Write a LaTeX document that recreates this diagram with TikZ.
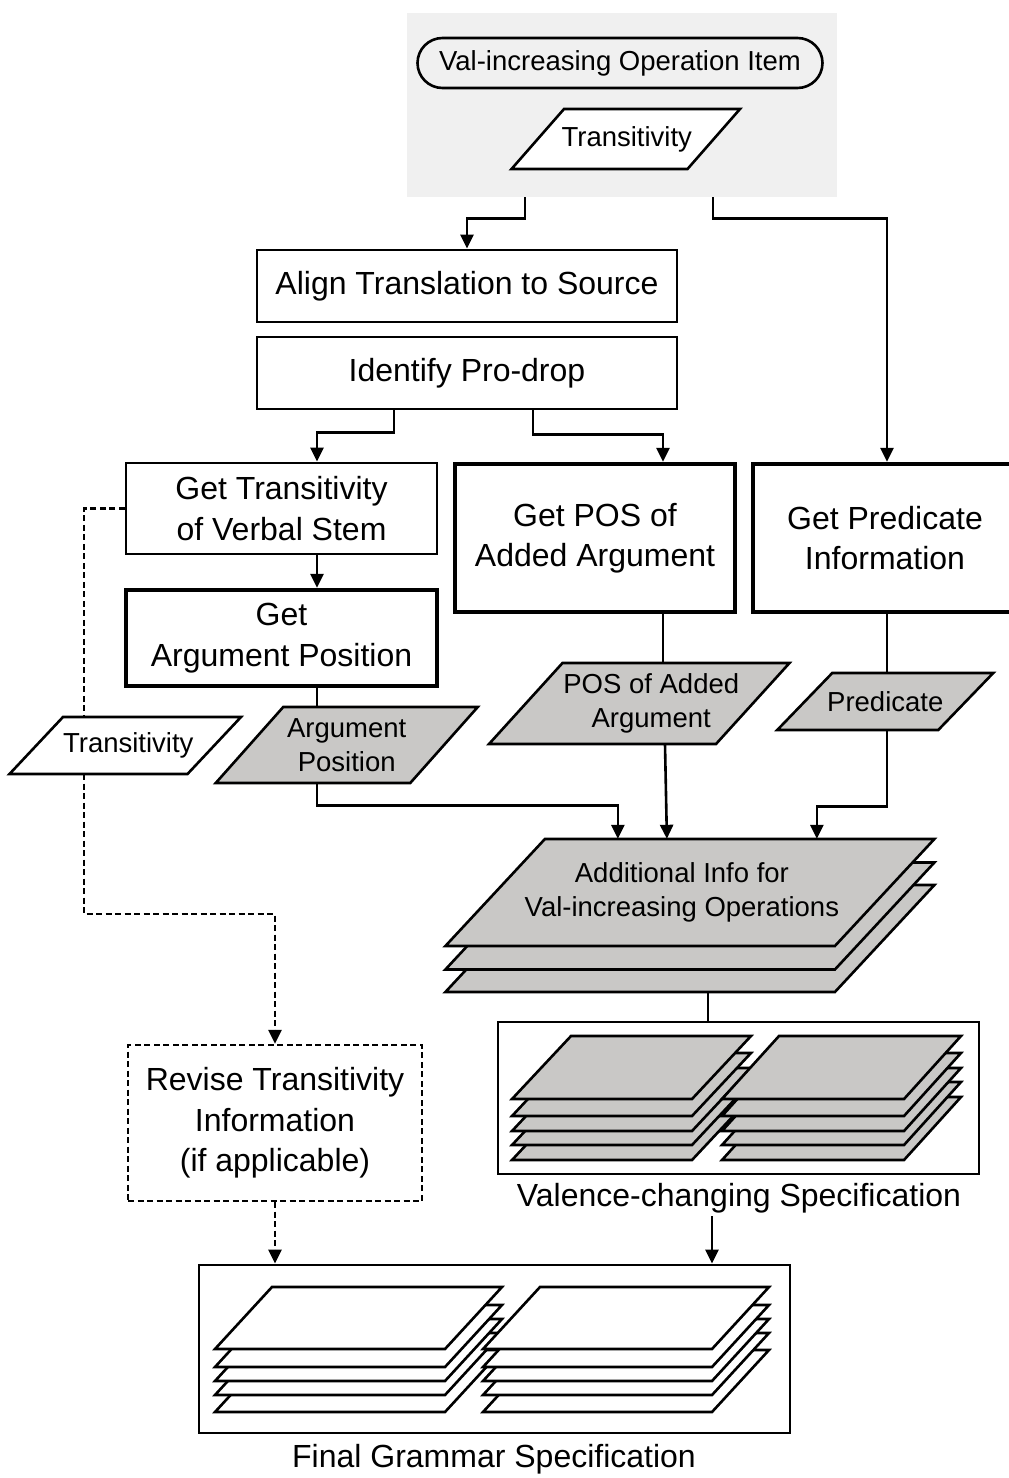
\documentclass[tikz,border=0pt]{standalone}
\usepackage{fontspec}
\setmainfont{Liberation Sans}
\usetikzlibrary{arrows.meta,calc}
\definecolor{bgpanel}{RGB}{240,240,240}
\definecolor{layergray}{RGB}{201,200,198}
\newcommand\bigfont{\fontsize{32}{40.5}\selectfont}
\newcommand\smallfont{\fontsize{27.5}{34.5}\selectfont}
\tikzset{
  conn/.style={line width=2.6pt},
  arr/.style={conn,-{Triangle[length=14pt,width=13pt]}},
  dconn/.style={line width=2.3pt,dash pattern=on 6pt off 3.5pt},
  darr/.style={dconn,-{Triangle[length=14pt,width=13pt]}},
  sheetline/.style={line width=2.6pt,line join=miter},
  procbox/.style={draw,line width=2.8pt,inner sep=0pt,align=center,font=\bigfont},
  thickbox/.style={procbox,line width=4.4pt},
  shapenode/.style={inner sep=0pt,draw=none},
  labeltext/.style={align=center,font=\smallfont,inner sep=0pt}
}
% sheet: cx cy w h slant fill
\newcommand\sheet[6]{%
  \draw[sheetline,fill=#6] ({#1-#3/2-#5/2},{#2+#4/2}) -- ({#1+#3/2-#5/2},{#2+#4/2})
    -- ({#1+#3/2+#5/2},{#2-#4/2}) -- ({#1-#3/2+#5/2},{#2-#4/2}) -- cycle;}
% paragram: name cx cy w h slant fill text textshift
\newcommand\paragram[9]{%
  \sheet{#2}{#3}{#4}{#5}{#6}{#7}
  \node[shapenode,minimum width=#4,minimum height=#5] (#1) at (#2,#3) {};
  \node[labeltext] (#1t) at ([xshift=#9]#1.center) {#8};}
\begin{document}
\begin{tikzpicture}[x=1pt,y=-1pt]
\useasboundingbox (0,0) rectangle (1009,1478);
\clip (0,0) rectangle (1009,1478);

% top panel
\node[fill=bgpanel,minimum width=430,minimum height=184,inner sep=0pt] (bg) at (622,105) {};
\node[draw,line width=2.6pt,rounded corners=25pt,minimum width=405,minimum height=50,inner sep=0pt,font=\smallfont] (item) at (620,63) {Val-increasing Operation Item};
\paragram{ttrans}{625.75}{139}{176}{60}{52.5}{white}{Transitivity}{1}

% process boxes
\node[procbox,minimum width=420,minimum height=72] (align) at (467,286) {\raisebox{-3pt}{Align Translation to Source}};
\node[procbox,minimum width=420,minimum height=72] (prodrop) at (467,373) {\raisebox{-3pt}{Identify Pro-drop}};
\node[procbox,minimum width=311,minimum height=91] (gettrans) at (281.5,508.5) {Get Transitivity\\of Verbal Stem};
\node[thickbox,minimum width=311,minimum height=96] (getarg) at (281.5,638) {Get\\Argument Position};
\node[thickbox,minimum width=280,minimum height=148] (getpos) at (595,538) {Get POS of\\Added Argument};
\node[thickbox,minimum width=264,minimum height=148] (getpred) at (885,538) {Get Predicate\\Information};

% data parallelograms
\paragram{ltrans}{125.25}{745.5}{178}{57}{53.5}{white}{Transitivity}{3}
\paragram{argpos}{346.75}{745}{194.5}{76}{67.5}{layergray}{Argument\\Position}{0}
\paragram{posarg}{639.25}{703.5}{227}{81}{73.5}{layergray}{POS of Added\\Argument}{12}
\paragram{pred}{885.25}{701.5}{161}{57}{55}{layergray}{Predicate}{0}

% additional info stack
\sheet{689.9}{938.5}{389.5}{107}{99.5}{layergray}
\sheet{689.9}{916}{389.5}{107}{99.5}{layergray}
\paragram{addinfo}{689.9}{892.5}{389.5}{107}{99.5}{layergray}{Additional Info for\\Val-increasing Operations}{-8}

% revise box
\node[procbox,line width=2.3pt,dash pattern=on 6pt off 3.5pt,minimum width=294,minimum height=156] (revise) at (275,1123) {Revise Transitivity\\Information\\(if applicable)};

% valence-changing specification
\node[draw,line width=2.8pt,minimum width=481,minimum height=152,inner sep=0pt] (valspec) at (738.5,1098) {};
\foreach \d in {61,46,32,17,0} {\sheet{631.5}{1067.5+\d}{180}{63}{59}{layergray}}
\foreach \d in {61,46,32,17,0} {\sheet{841.5}{1067.5+\d}{182}{63}{57}{layergray}}
\node[font=\bigfont] (vlabel) at (739,1198) {Valence-changing Specification};

% final grammar specification
\node[draw,line width=2.8pt,minimum width=591,minimum height=168,inner sep=0pt] (final) at (494.5,1349) {};
\foreach \d in {63,46,32,18,0} {\sheet{358.5}{1318+\d}{230}{62}{57}{white}}
\foreach \d in {63,46,32,18,0} {\sheet{626}{1318+\d}{229}{62}{57}{white}}
\node[font=\bigfont] (flabel) at (494,1459) {Final Grammar Specification};

% connectors
\draw[arr] ([xshift=-97pt]bg.south) -- ++(0,21) -| (align.north);
\draw[arr] ([xshift=91pt]bg.south) -- ++(0,21) -| ([xshift=2pt]getpred.north);
\draw[arr] ([xshift=-73pt]prodrop.south) -- ++(0,22) -| ([xshift=35.5pt]gettrans.north);
\draw[arr] ([xshift=66pt]prodrop.south) -- ++(0,24) -| ([xshift=68pt]getpos.north);
\draw[arr] ([xshift=35.5pt]gettrans.south) -- ([xshift=35.5pt]getarg.north);
\draw[conn] ([xshift=35.5pt]getarg.south) -- ([xshift=-29.75pt]argpos.north);
\draw[arr] ([xshift=-29.75pt]argpos.south) -- ++(0,22) -| ([xshift=-72pt]addinfo.north);
\draw[conn] ([xshift=68pt]getpos.south) -- ([xshift=23.75pt]posarg.north);
\draw[arr] ([xshift=25.75pt]posarg.south) -- ([xshift=-23pt]addinfo.north);
\draw[conn] ([xshift=2pt]getpred.south) -- ([xshift=1.75pt]pred.north);
\draw[arr] ([xshift=1.75pt]pred.south) -- ++(0,76) -| ([xshift=127pt]addinfo.north);
\draw[dconn] (gettrans.west) -| ([xshift=-41.25pt]ltrans.north);
\draw[darr] ([xshift=-41.25pt]ltrans.south) -- ++(0,140) -| (revise.north);
\draw[conn] ([xshift=18.1pt,yshift=-46.5pt]addinfo.south) -- ([xshift=-30.5pt]valspec.north);
\draw[darr] (revise.south) -- ([xshift=-219.5pt]final.north);
\draw[arr] ([xshift=-27pt]vlabel.south) -- ([xshift=217.5pt]final.north);
\end{tikzpicture}
\end{document}
